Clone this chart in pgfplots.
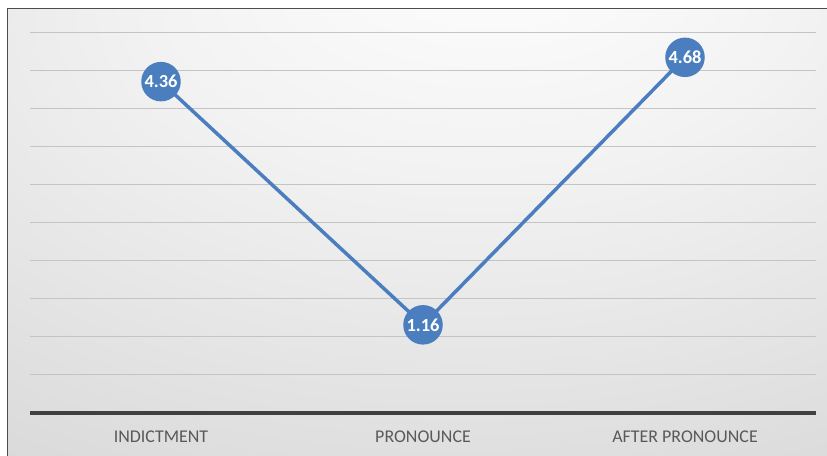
\documentclass[border=0pt]{standalone}
\usepackage{pgfplots}
\pgfplotsset{compat=1.18}
\usepackage{fontspec}
\setmainfont{Carlito}

\definecolor{lineblue}{RGB}{74,126,190}
\definecolor{gridgray}{RGB}{196,196,196}
\definecolor{axisdark}{RGB}{64,64,64}
\definecolor{ticktext}{RGB}{89,89,89}
\pgfdeclareradialshading{chartbg}{\pgfpoint{5bp}{35bp}}{%
  color(0bp)=(white); color(20bp)=(white!95!black);
  color(50bp)=(white!85!black); color(85bp)=(white!76!black)}

\begin{document}
\begin{tikzpicture}
  \useasboundingbox (0bp,0bp) rectangle (827bp,456bp);
  \shade[shading=chartbg] (7bp,0bp) rectangle (827bp,447bp);
  \draw[line width=1.5bp, black!70] (7.5bp,0bp) -- (7.5bp,447.5bp) -- (827bp,447.5bp);
  \begin{axis}[
      at={(30bp,43bp)}, anchor=south west,
      scale only axis,
      width=786bp, height=380bp,
      xmin=-0.5, xmax=2.5,
      ymin=0, ymax=5,
      axis x line*=bottom,
      axis y line*=left,
      x axis line style={axisdark, line width=3bp},
      y axis line style={draw=none},
      xtick={0,1,2},
      xticklabels={INDICTMENT,PRONOUNCE,AFTER PRONOUNCE},
      ytick={0,0.5,...,5},
      yticklabels={},
      major tick length=0pt,
      ymajorgrids=true,
      grid style={gridgray, line width=1bp},
      xticklabel style={font=\fontsize{18}{18}\selectfont, text=ticktext, anchor=center, yshift=-24bp},
      clip=false,
    ]
    \addplot[lineblue, line width=3.5bp, mark=*, mark size=18bp,
      mark options={fill=lineblue, draw=lineblue},
      point meta=explicit symbolic, nodes near coords,
      every node near coord/.append style={anchor=center, text=white,
        font=\bfseries\fontsize{18.5}{18.5}\selectfont}]
      coordinates {(0,4.36)[4.36] (1,1.16)[1.16] (2,4.68)[4.68]};
  \end{axis}
\end{tikzpicture}
\end{document}
